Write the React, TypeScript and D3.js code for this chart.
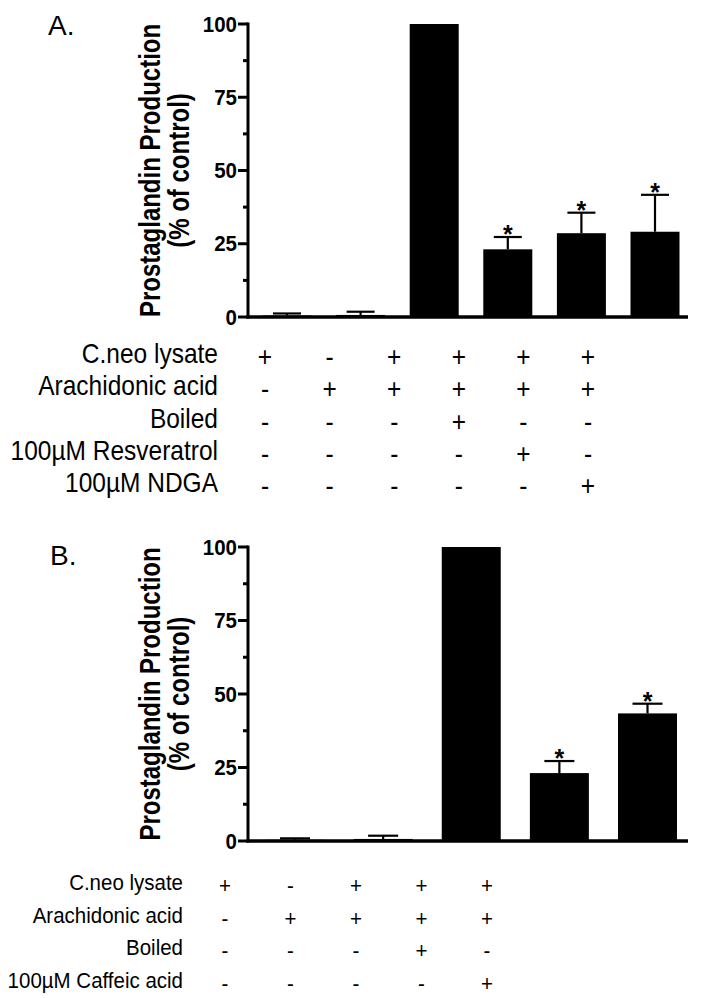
import React from 'react';
import * as d3 from 'd3';

// ---------- Data ----------
const catsA = ['A1', 'A2', 'A3', 'A4', 'A5', 'A6'];
const valuesA = [0.5, 0.7, 100, 23.1, 28.6, 29.1];
const errorsA = [0.7, 1.1, 0, 4.2, 7.0, 12.6];
const sigA = [false, false, false, true, true, true];
const rowLabelsA = ['C.neo lysate', 'Arachidonic acid', 'Boiled', '100µM Resveratrol', '100µM NDGA'];
const rowSymbolsA = [
  ['+', '-', '+', '+', '+', '+'],
  ['-', '+', '+', '+', '+', '+'],
  ['-', '-', '-', '+', '-', '-'],
  ['-', '-', '-', '-', '+', '-'],
  ['-', '-', '-', '-', '-', '+'],
];

const catsB = ['B1', 'B2', 'B3', 'B4', 'B5'];
const valuesB = [0.4, 0.7, 100, 23.1, 43.4];
const errorsB = [0.5, 1.1, 0, 4.1, 3.3];
const sigB = [false, false, false, true, true];
const rowLabelsB = ['C.neo lysate', 'Arachidonic acid', 'Boiled', '100µM Caffeic acid'];
const rowSymbolsB = [
  ['+', '-', '+', '+', '+'],
  ['-', '+', '+', '+', '+'],
  ['-', '-', '-', '+', '-'],
  ['-', '-', '-', '-', '+'],
];

const majorTicks = [0, 25, 50, 75, 100];
const minorTicks = [12.5, 37.5, 62.5, 87.5];
const yTitle1 = 'Prostaglandin Production';
const yTitle2 = '(% of control)';

const FONT = "'Liberation Sans', Arial, Helvetica, sans-serif";

type PanelProps = {
  letter: string;
  letterX: number;
  letterY: number;
  cats: string[];
  values: number[];
  errors: number[];
  sig: boolean[];
  yTop: number;
  yBottom: number;
  axisX: number;
  axisEnd: number;
  barFirst: number;
  barLast: number;
  barWidth: number;
  capWidth: number;
  rowLabels: string[];
  rowSymbols: string[][];
  labelRight: number;
  colFirst: number;
  colLast: number;
  rowFirst: number;
  rowStep: number;
  tableFont: number;
};

function Panel(p: PanelProps) {
  const y = d3.scaleLinear().domain([0, 100]).range([p.yBottom, p.yTop]);
  const x = d3.scalePoint<string>().domain(p.cats).range([p.barFirst, p.barLast]);
  const colIdx = p.rowSymbols[0].map((_, i) => String(i));
  const cx = d3.scalePoint<string>().domain(colIdx).range([p.colFirst, p.colLast]);
  const rowY = (i: number) => p.rowFirst + i * p.rowStep;
  const titleCY = (p.yTop + p.yBottom) / 2;
  const vs = 1.1;

  return (
    <g>
      <text x={p.letterX} y={p.letterY} fontFamily={FONT} fontSize={28} fill="#000">
        {p.letter}
      </text>

      {/* y title */}
      <g transform={`translate(160,${titleCY}) scale(1.25,1) rotate(-90)`}>
        <text textAnchor="middle" fontFamily={FONT} fontWeight="bold" fontSize={24} fill="#000">
          {yTitle1}
        </text>
      </g>
      <g transform={`translate(189,${titleCY}) scale(1.25,1) rotate(-90)`}>
        <text textAnchor="middle" fontFamily={FONT} fontWeight="bold" fontSize={24} fill="#000">
          {yTitle2}
        </text>
      </g>

      {/* bars */}
      {p.cats.map((c, i) => (
        <rect
          key={c}
          x={(x(c) as number) - p.barWidth / 2}
          y={y(p.values[i])}
          width={p.barWidth}
          height={y(0) - y(p.values[i])}
          fill="#000"
        />
      ))}

      {/* error bars */}
      {p.cats.map((c, i) =>
        p.errors[i] > 0 ? (
          <g key={'e' + c} stroke="#000" strokeWidth={2.2}>
            <line x1={x(c)} x2={x(c)} y1={y(p.values[i])} y2={y(p.values[i] + p.errors[i])} />
            <line
              x1={(x(c) as number) - p.capWidth / 2}
              x2={(x(c) as number) + p.capWidth / 2}
              y1={y(p.values[i] + p.errors[i])}
              y2={y(p.values[i] + p.errors[i])}
            />
          </g>
        ) : null
      )}

      {/* stars */}
      {p.cats.map((c, i) =>
        p.sig[i] ? (
          <text
            key={'s' + c}
            x={x(c)}
            y={y(p.values[i] + p.errors[i]) + 6}
            textAnchor="middle"
            fontFamily={FONT}
            fontWeight="bold"
            fontSize={25}
            fill="#000"
          >
            *
          </text>
        ) : null
      )}

      {/* axes */}
      <line x1={p.axisX} x2={p.axisX} y1={y(100) - 1.5} y2={y(0) + 1.5} stroke="#000" strokeWidth={3} />
      <line x1={p.axisX - 1.5} x2={p.axisEnd} y1={y(0)} y2={y(0)} stroke="#000" strokeWidth={3.5} />
      {majorTicks.map((t) => (
        <g key={'t' + t}>
          <line x1={p.axisX - 10} x2={p.axisX} y1={y(t)} y2={y(t)} stroke="#000" strokeWidth={3} />
          <g transform={`translate(${p.axisX - 11},${y(t) + 7.5}) scale(1,1.05)`}>
            <text textAnchor="end" fontFamily={FONT} fontWeight="bold" fontSize={20.5} fill="#000">
              {t}
            </text>
          </g>
        </g>
      ))}
      {minorTicks.map((t) => (
        <line key={'m' + t} x1={p.axisX - 5} x2={p.axisX} y1={y(t)} y2={y(t)} stroke="#000" strokeWidth={3} />
      ))}

      {/* condition table */}
      {p.rowLabels.map((lab, r) => (
        <g key={'r' + r}>
          <g transform={`translate(${p.labelRight},${rowY(r)}) scale(1,${vs})`}>
            <text textAnchor="end" fontFamily={FONT} fontSize={p.tableFont} fill="#000">
              {lab}
            </text>
          </g>
          {p.rowSymbols[r].map((s, k) => (
            <g key={k} transform={`translate(${cx(String(k))},${rowY(r) + 3}) scale(1,${vs})`}>
              <text textAnchor="middle" fontFamily={FONT} fontSize={p.tableFont} fill="#000">
                {s}
              </text>
            </g>
          ))}
        </g>
      ))}
    </g>
  );
}

export default function App() {
  return (
    <svg
      width={702}
      height={998}
      viewBox="0 0 702 998"
      style={{ position: 'absolute', left: 0, top: 0, background: '#fff' }}
    >
      <rect x={0} y={0} width={702} height={998} fill="#fff" />
      <Panel
        letter="A."
        letterX={48}
        letterY={35}
        cats={catsA}
        values={valuesA}
        errors={errorsA}
        sig={sigA}
        yTop={24}
        yBottom={317}
        axisX={248}
        axisEnd={688}
        barFirst={287}
        barLast={655}
        barWidth={49}
        capWidth={28}
        rowLabels={rowLabelsA}
        rowSymbols={rowSymbolsA}
        labelRight={218}
        colFirst={265}
        colLast={588}
        rowFirst={363}
        rowStep={32.3}
        tableFont={24.5}
      />
      <Panel
        letter="B."
        letterX={50}
        letterY={565}
        cats={catsB}
        values={valuesB}
        errors={errorsB}
        sig={sigB}
        yTop={547}
        yBottom={841}
        axisX={248}
        axisEnd={688}
        barFirst={295}
        barLast={647.5}
        barWidth={59}
        capWidth={30}
        rowLabels={rowLabelsB}
        rowSymbols={rowSymbolsB}
        labelRight={183}
        colFirst={225}
        colLast={487}
        rowFirst={890}
        rowStep={32.5}
        tableFont={20.5}
      />
    </svg>
  );
}
